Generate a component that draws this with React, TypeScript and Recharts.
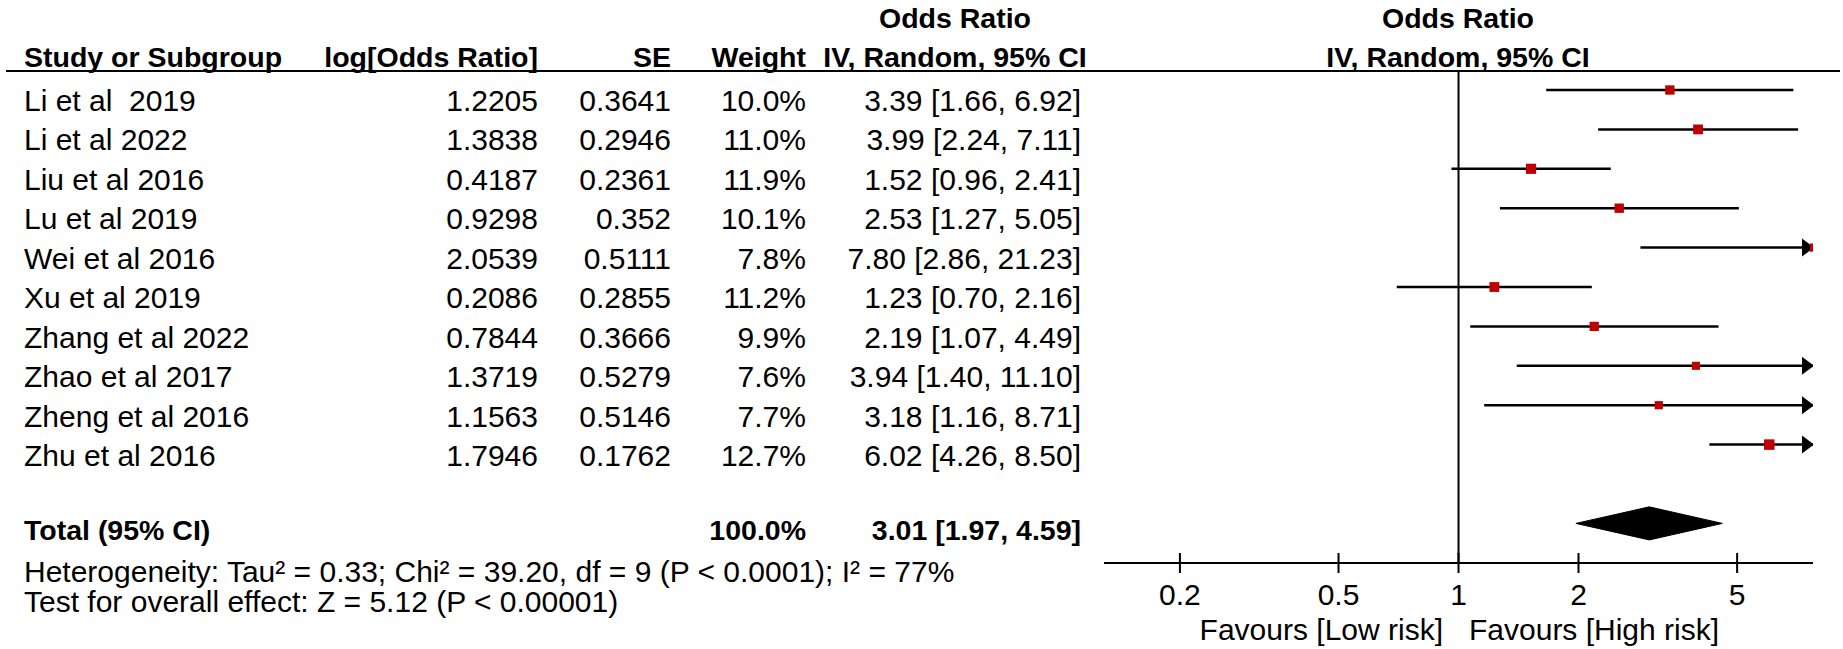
import React from 'react';
import { ComposedChart, Scatter, Area, XAxis, YAxis, ReferenceLine, ErrorBar } from 'recharts';

// study rows
const studies = [
  'Li et al  2019',
  'Li et al 2022',
  'Liu et al 2016',
  'Lu et al 2019',
  'Wei et al 2016',
  'Xu et al 2019',
  'Zhang et al 2022',
  'Zhao et al 2017',
  'Zheng et al 2016',
  'Zhu et al 2016',
];
const logOdds = ['1.2205', '1.3838', '0.4187', '0.9298', '2.0539', '0.2086', '0.7844', '1.3719', '1.1563', '1.7946'];
const stdErr = ['0.3641', '0.2946', '0.2361', '0.352', '0.5111', '0.2855', '0.3666', '0.5279', '0.5146', '0.1762'];
const weights = [10.0, 11.0, 11.9, 10.1, 7.8, 11.2, 9.9, 7.6, 7.7, 12.7];
const oddsRatio = [3.39, 3.99, 1.52, 2.53, 7.8, 1.23, 2.19, 3.94, 3.18, 6.02];
const ciLow = [1.66, 2.24, 0.96, 1.27, 2.86, 0.7, 1.07, 1.4, 1.16, 4.26];
const ciHigh = [6.92, 7.11, 2.41, 5.05, 21.23, 2.16, 4.49, 11.1, 8.71, 8.5];

// pooled estimate
const totalWeight = 100.0;
const totalOR = 3.01;
const totalLow = 1.97;
const totalHigh = 4.59;
const TOTAL_ROW = 11;

const xTicks = [0.2, 0.5, 1, 2, 5];
const X_MIN = 0.129;
const X_MAX = 7.75;

const heterogeneity = 'Heterogeneity: Tau\u00b2 = 0.33; Chi\u00b2 = 39.20, df = 9 (P < 0.0001); I\u00b2 = 77%';
const overallTest = 'Test for overall effect: Z = 5.12 (P < 0.00001)';

const FONT = "'Liberation Sans', Arial, Helvetica, sans-serif";
const RED = '#c00000';

const studyPoints = studies.map((name, i) => ({
  name,
  x: oddsRatio[i],
  y: i,
  w: weights[i],
  err: [oddsRatio[i] - ciLow[i], Math.min(ciHigh[i], X_MAX) - oddsRatio[i]],
}));

const arrowPoints = studies
  .map((_, i) => ({ x: X_MAX, y: i, over: ciHigh[i] > X_MAX }))
  .filter((p) => p.over);

const diamond = [
  { x: totalLow, d: [TOTAL_ROW, TOTAL_ROW] },
  { x: totalOR, d: [TOTAL_ROW - 0.42, TOTAL_ROW + 0.42] },
  { x: totalHigh, d: [TOTAL_ROW, TOTAL_ROW] },
];

// table column anchors
const COL = { study: 24, logOr: 538, se: 671, weight: 806, ci: 1081, ciHead: 955, plotHead: 1458 };
const textRow = (i: number) => 100 + 39.5 * i;

function Txt({ x, y, anchor = 'start', bold = false, children }: any) {
  return (
    <text
      x={x}
      y={y}
      textAnchor={anchor}
      dominantBaseline="central"
      fontFamily={FONT}
      fontSize={bold ? 28.5 : 30}
      fontWeight={bold ? 'bold' : 'normal'}
      fill="#000"
      style={{ whiteSpace: 'pre' }}
    >
      {children}
    </text>
  );
}

function AxisTick({ x, y, payload }: any) {
  return (
    <g>
      <line x1={x} x2={x} y1={y - 10} y2={y + 10} stroke="#000" strokeWidth={2} />
      <text x={x} y={y + 31} textAnchor="middle" dominantBaseline="central" fontFamily={FONT} fontSize={30} fill="#000">
        {String(payload.value)}
      </text>
    </g>
  );
}

function Square(props: any) {
  const { cx, cy, payload } = props;
  const s = 10.5 * Math.sqrt(payload.w / 12.7);
  return <rect x={cx - s / 2} y={cy - s / 2} width={s} height={s} fill={RED} />;
}

function Arrow(props: any) {
  const { cx, cy } = props;
  return <polygon points={`${cx + 1},${cy} ${cx - 11},${cy - 9} ${cx - 11},${cy + 9}`} fill="#000" />;
}

function TableLayer() {
  return (
    <svg
      width={1843}
      height={649}
      style={{ position: 'absolute', left: 0, top: 0, pointerEvents: 'none' }}
    >
      <Txt x={COL.ciHead} y={18} anchor="middle" bold>Odds Ratio</Txt>
      <Txt x={COL.plotHead} y={18} anchor="middle" bold>Odds Ratio</Txt>
      <Txt x={COL.study} y={57} bold>Study or Subgroup</Txt>
      <Txt x={COL.logOr} y={57} anchor="end" bold>log[Odds Ratio]</Txt>
      <Txt x={COL.se} y={57} anchor="end" bold>SE</Txt>
      <Txt x={COL.weight} y={57} anchor="end" bold>Weight</Txt>
      <Txt x={COL.ciHead} y={57} anchor="middle" bold>IV, Random, 95% CI</Txt>
      <Txt x={COL.plotHead} y={57} anchor="middle" bold>IV, Random, 95% CI</Txt>
      <line x1={6} x2={1840} y1={71} y2={71} stroke="#000" strokeWidth={2} />

      {studies.map((name, i) => (
        <g key={name}>
          <Txt x={COL.study} y={textRow(i)}>{name}</Txt>
          <Txt x={COL.logOr} y={textRow(i)} anchor="end">{logOdds[i]}</Txt>
          <Txt x={COL.se} y={textRow(i)} anchor="end">{stdErr[i]}</Txt>
          <Txt x={COL.weight} y={textRow(i)} anchor="end">{weights[i].toFixed(1)}%</Txt>
          <Txt x={COL.ci} y={textRow(i)} anchor="end">
            {`${oddsRatio[i].toFixed(2)} [${ciLow[i].toFixed(2)}, ${ciHigh[i].toFixed(2)}]`}
          </Txt>
        </g>
      ))}

      <Txt x={COL.study} y={530} bold>Total (95% CI)</Txt>
      <Txt x={COL.weight} y={530} anchor="end" bold>{totalWeight.toFixed(1)}%</Txt>
      <Txt x={COL.ci} y={530} anchor="end" bold>
        {`${totalOR.toFixed(2)} [${totalLow.toFixed(2)}, ${totalHigh.toFixed(2)}]`}
      </Txt>
      <Txt x={COL.study} y={571}>{heterogeneity}</Txt>
      <Txt x={COL.study} y={601}>{overallTest}</Txt>

      <Txt x={1443} y={629} anchor="end">Favours [Low risk]</Txt>
      <Txt x={1469} y={629}>Favours [High risk]</Txt>
    </svg>
  );
}

export default function App() {
  return (
    <div style={{ position: 'relative', width: 1843, height: 649, background: '#fff' }}>
      <style>{'body{margin:0;background:#fff}'}</style>
      <ComposedChart width={1843} height={649} margin={{ top: 71, right: 30, bottom: 26, left: 1104 }}>
        <XAxis
          type="number"
          dataKey="x"
          scale="log"
          domain={[X_MIN, X_MAX]}
          allowDataOverflow
          ticks={xTicks}
          tick={<AxisTick />}
          tickLine={false}
          tickSize={0}
          tickMargin={0}
          height={60}
          axisLine={{ stroke: '#000', strokeWidth: 2 }}
          interval={0}
        />
        <YAxis type="number" dataKey="y" domain={[-0.482, 12.005]} reversed hide allowDataOverflow />
        <ReferenceLine x={1} stroke="#000" strokeWidth={2} />
        <Area
          data={diamond}
          dataKey="d"
          type="linear"
          fill="#000"
          fillOpacity={1}
          stroke="#000"
          strokeWidth={1}
          isAnimationActive={false}
        />
        <Scatter data={arrowPoints} shape={<Arrow />} isAnimationActive={false} />
        <Scatter data={studyPoints} shape={<Square />} isAnimationActive={false}>
          <ErrorBar dataKey="err" direction="x" width={0} stroke="#000" strokeWidth={2.5} isAnimationActive={false} />
        </Scatter>
      </ComposedChart>
      <TableLayer />
    </div>
  );
}
